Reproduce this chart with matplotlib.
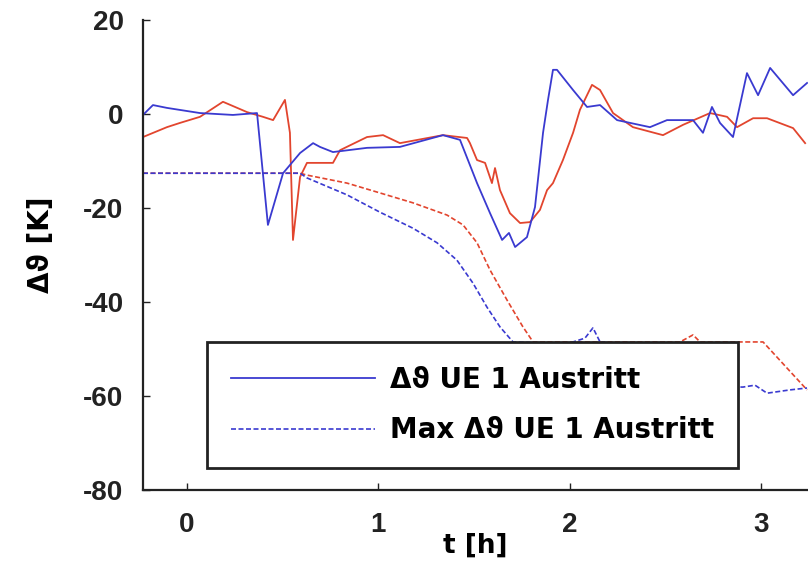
import numpy as np
import matplotlib
matplotlib.use("Agg")
import matplotlib.pyplot as plt

plt.rcParams['font.family'] = ['Liberation Sans', 'DejaVu Sans']
plt.rcParams['font.weight'] = 'bold'
plt.rcParams['axes.unicode_minus'] = False

# blue solid: Δϑ UE 1 Austritt
t_blue = [-0.23, -0.178, -0.105, 0.068, 0.240, 0.366, 0.423, 0.502, 0.591, 0.659,
          0.695, 0.763, 0.941, 1.113, 1.338, 1.427, 1.516, 1.584, 1.647, 1.683,
          1.715, 1.777, 1.819, 1.861, 1.887, 1.913, 1.934, 2.018, 2.091, 2.159,
          2.248, 2.420, 2.509, 2.645, 2.697, 2.744, 2.786, 2.854, 2.927, 2.985,
          3.048, 3.168, 3.241]
v_blue = [-0.2, 1.9, 1.3, 0.2, -0.2, 0.2, -23.6, -12.6, -8.3, -6.2,
          -7.0, -8.1, -7.2, -7.0, -4.5, -5.5, -14.7, -21.1, -26.8, -25.3,
          -28.3, -26.2, -19.8, -4.0, 3.0, 9.4, 9.4, 5.1, 1.5, 1.9,
          -1.3, -2.8, -1.3, -1.3, -4.0, 1.5, -1.9, -4.9, 8.7, 4.0,
          9.8, 4.0, 6.6]

# red solid
t_red = [-0.23, -0.105, -0.037, 0.068, 0.188, 0.314, 0.397, 0.450, 0.512, 0.538,
         0.554, 0.591, 0.627, 0.763, 0.800, 0.941, 1.025, 1.113, 1.338, 1.464,
         1.479, 1.516, 1.558, 1.594, 1.610, 1.636, 1.688, 1.741, 1.793, 1.845,
         1.882, 1.913, 1.965, 2.018, 2.054, 2.117, 2.159, 2.227, 2.331, 2.488,
         2.593, 2.734, 2.823, 2.875, 2.959, 3.032, 3.168, 3.231]
v_red = [-4.9, -2.8, -1.9, -0.6, 2.6, 0.4, -0.6, -1.3, 3.0, -4.0,
         -26.8, -13.4, -10.4, -10.4, -7.7, -4.9, -4.5, -6.2, -4.5, -5.1,
         -6.2, -9.8, -10.4, -14.7, -11.5, -16.2, -21.1, -23.2, -23.0, -20.4,
         -16.2, -14.7, -9.8, -4.0, 0.9, 6.2, 5.1, 0.2, -2.8, -4.5,
         -2.3, 0.2, -0.6, -2.8, -0.9, -0.9, -3.0, -6.2]

# blue dashed: Max Δϑ UE 1 Austritt
t_blue_max = [-0.23, 0.591, 0.627, 0.836, 1.009, 1.181, 1.307, 1.411, 1.495, 1.568,
              1.636, 1.704, 1.845, 2.002, 2.080, 2.122, 2.159, 2.300, 2.500, 2.906,
              2.969, 3.032, 3.152, 3.241]
v_blue_max = [-12.6, -12.6, -13.6, -17.2, -20.9, -24.3, -27.4, -31.1, -36.0, -41.1,
              -45.3, -48.5, -48.7, -48.7, -47.7, -45.5, -48.5, -49.0, -58.0, -58.1,
              -57.7, -59.4, -58.7, -58.3]

# red dashed
t_red_max = [-0.23, 0.591, 0.627, 0.836, 1.009, 1.181, 1.359, 1.443, 1.516, 1.584,
             1.673, 1.756, 1.809, 1.950, 2.577, 2.645, 2.682, 3.011, 3.241]
v_red_max = [-12.6, -12.6, -13.0, -14.7, -16.8, -18.9, -21.5, -23.6, -27.4, -33.2,
             -39.6, -45.3, -48.5, -48.5, -48.5, -47.0, -48.5, -48.5, -58.7]

x_ticks = [0, 1, 2, 3]
y_ticks = [-80, -60, -40, -20, 0, 20]

blue = '#3a3ad0'
red = '#e2452e'

fig = plt.figure(figsize=(8.08, 5.62), dpi=100)
ax = fig.add_axes([143/808, 1 - 490/562, 665/808, 470/562])

ax.plot(t_red, v_red, color=red, lw=1.3)
ax.plot(t_red_max, v_red_max, color=red, lw=1.2, ls=(0, (3, 1.5)))
ax.plot(t_blue, v_blue, color=blue, lw=1.3, label='Δϑ UE 1 Austritt')
ax.plot(t_blue_max, v_blue_max, color=blue, lw=1.2, ls=(0, (3, 1.5)),
        label='Max Δϑ UE 1 Austritt')

ax.set_xlim(-0.23, 3.246)
ax.set_ylim(-80, 20)
ax.set_xticks(x_ticks)
ax.set_yticks(y_ticks)

for s in ['top', 'right']:
    ax.spines[s].set_visible(False)
for s in ['left', 'bottom']:
    ax.spines[s].set_linewidth(1.6)
    ax.spines[s].set_color('#222222')

ax.tick_params(axis='both', direction='in', length=5, width=1, labelsize=20, colors='#222222')
ax.tick_params(axis='y', pad=14)
ax.tick_params(axis='x', pad=16)

lab_font = dict(family=['DejaVu Sans'], fontsize=19, fontweight='bold')
ax.set_xlabel('t [h]', labelpad=-4, **lab_font)
ax.set_ylabel('Δϑ [K]', fontsize=20, family=['DejaVu Sans'], fontweight='bold')
ax.yaxis.set_label_coords(-0.133, 0.521)

leg = ax.legend(loc='lower left', bbox_to_anchor=(64/665, 22/470), borderaxespad=0,
                prop=dict(family=['DejaVu Sans'], size=20, weight='bold'),
                handlelength=5.2, handletextpad=0.55, labelspacing=0.82,
                borderpad=0.85, fancybox=False, framealpha=1, edgecolor='#222222')
leg.get_frame().set_linewidth(2)

fig.savefig('out.png', dpi=100)
